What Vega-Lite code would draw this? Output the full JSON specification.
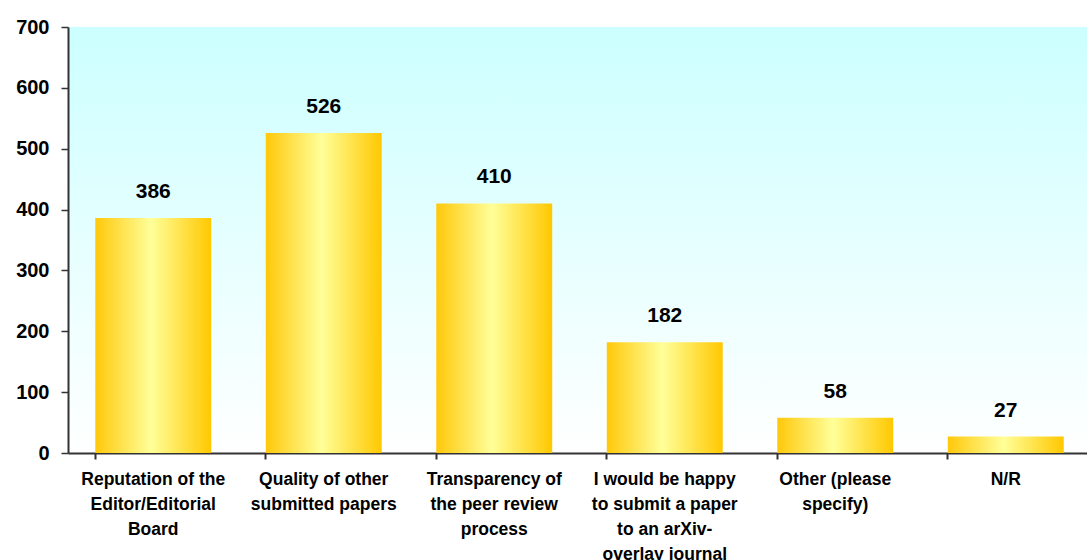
{
  "$schema": "https://vega.github.io/schema/vega-lite/v6.json",
  "autosize": "none",
  "width": 1023,
  "height": 426,
  "padding": {"left": 68, "top": 27, "right": 0, "bottom": 107},
  "background": "white",
  "config": {
    "view": {
      "stroke": null,
      "fill": {"gradient": "linear", "x1": 0, "x2": 0, "y1": 0, "y2": 1, "stops": [{"offset": 0, "color": "#CCFFFF"}, {"offset": 1, "color": "#FFFFFF"}]}
    },
    "font": "Liberation Sans"
  },
  "data": {
    "values": [
      {"cat": "Reputation of the|Editor/Editorial|Board", "value": 386},
      {"cat": "Quality of other|submitted papers", "value": 526},
      {"cat": "Transparency of|the peer review|process", "value": 410},
      {"cat": "I would be happy|to submit a paper|to an arXiv-|overlay journal", "value": 182},
      {"cat": "Other (please|specify)", "value": 58},
      {"cat": "N/R", "value": 27}
    ]
  },
  "encoding": {
    "x": {
      "field": "cat", "type": "nominal", "sort": null,
      "scale": {"paddingInner": 0.32, "paddingOuter": 0.16},
      "axis": {
        "title": null, "labelAngle": 0, "labelExpr": "split(datum.label, '|')",
        "labelFont": "Liberation Sans", "labelFontWeight": "bold", "labelFontSize": 17.5, "labelColor": "#000000",
        "labelLineHeight": 25, "labelPadding": 11, "labelLimit": 200,
        "bandPosition": 0, "ticks": true, "tickSize": 6, "tickColor": "#333333", "tickWidth": 2,
        "domainColor": "#333333", "domainWidth": 2, "grid": false
      }
    },
    "y": {
      "field": "value", "type": "quantitative",
      "scale": {"domain": [0, 700], "nice": false},
      "axis": {
        "title": null, "values": [0, 100, 200, 300, 400, 500, 600, 700],
        "labelFont": "Liberation Sans", "labelFontWeight": "bold", "labelFontSize": 20, "labelColor": "#000000",
        "labelPadding": 12, "tickSize": 7, "tickColor": "#333333", "tickWidth": 1.5,
        "domainColor": "#333333", "domainWidth": 2, "grid": false
      }
    }
  },
  "layer": [
    {
      "mark": {
        "type": "bar",
        "color": {"gradient": "linear", "x1": 0, "x2": 1, "y1": 0, "y2": 0, "stops": [{"offset": 0, "color": "#FFC80A"}, {"offset": 0.48, "color": "#FFFF99"}, {"offset": 1, "color": "#FFC800"}]}
      }
    },
    {
      "mark": {"type": "text", "baseline": "bottom", "dy": -16, "font": "Liberation Sans", "fontWeight": "bold", "fontSize": 21, "color": "#000000"},
      "encoding": {"text": {"field": "value", "type": "quantitative"}}
    }
  ]
}
